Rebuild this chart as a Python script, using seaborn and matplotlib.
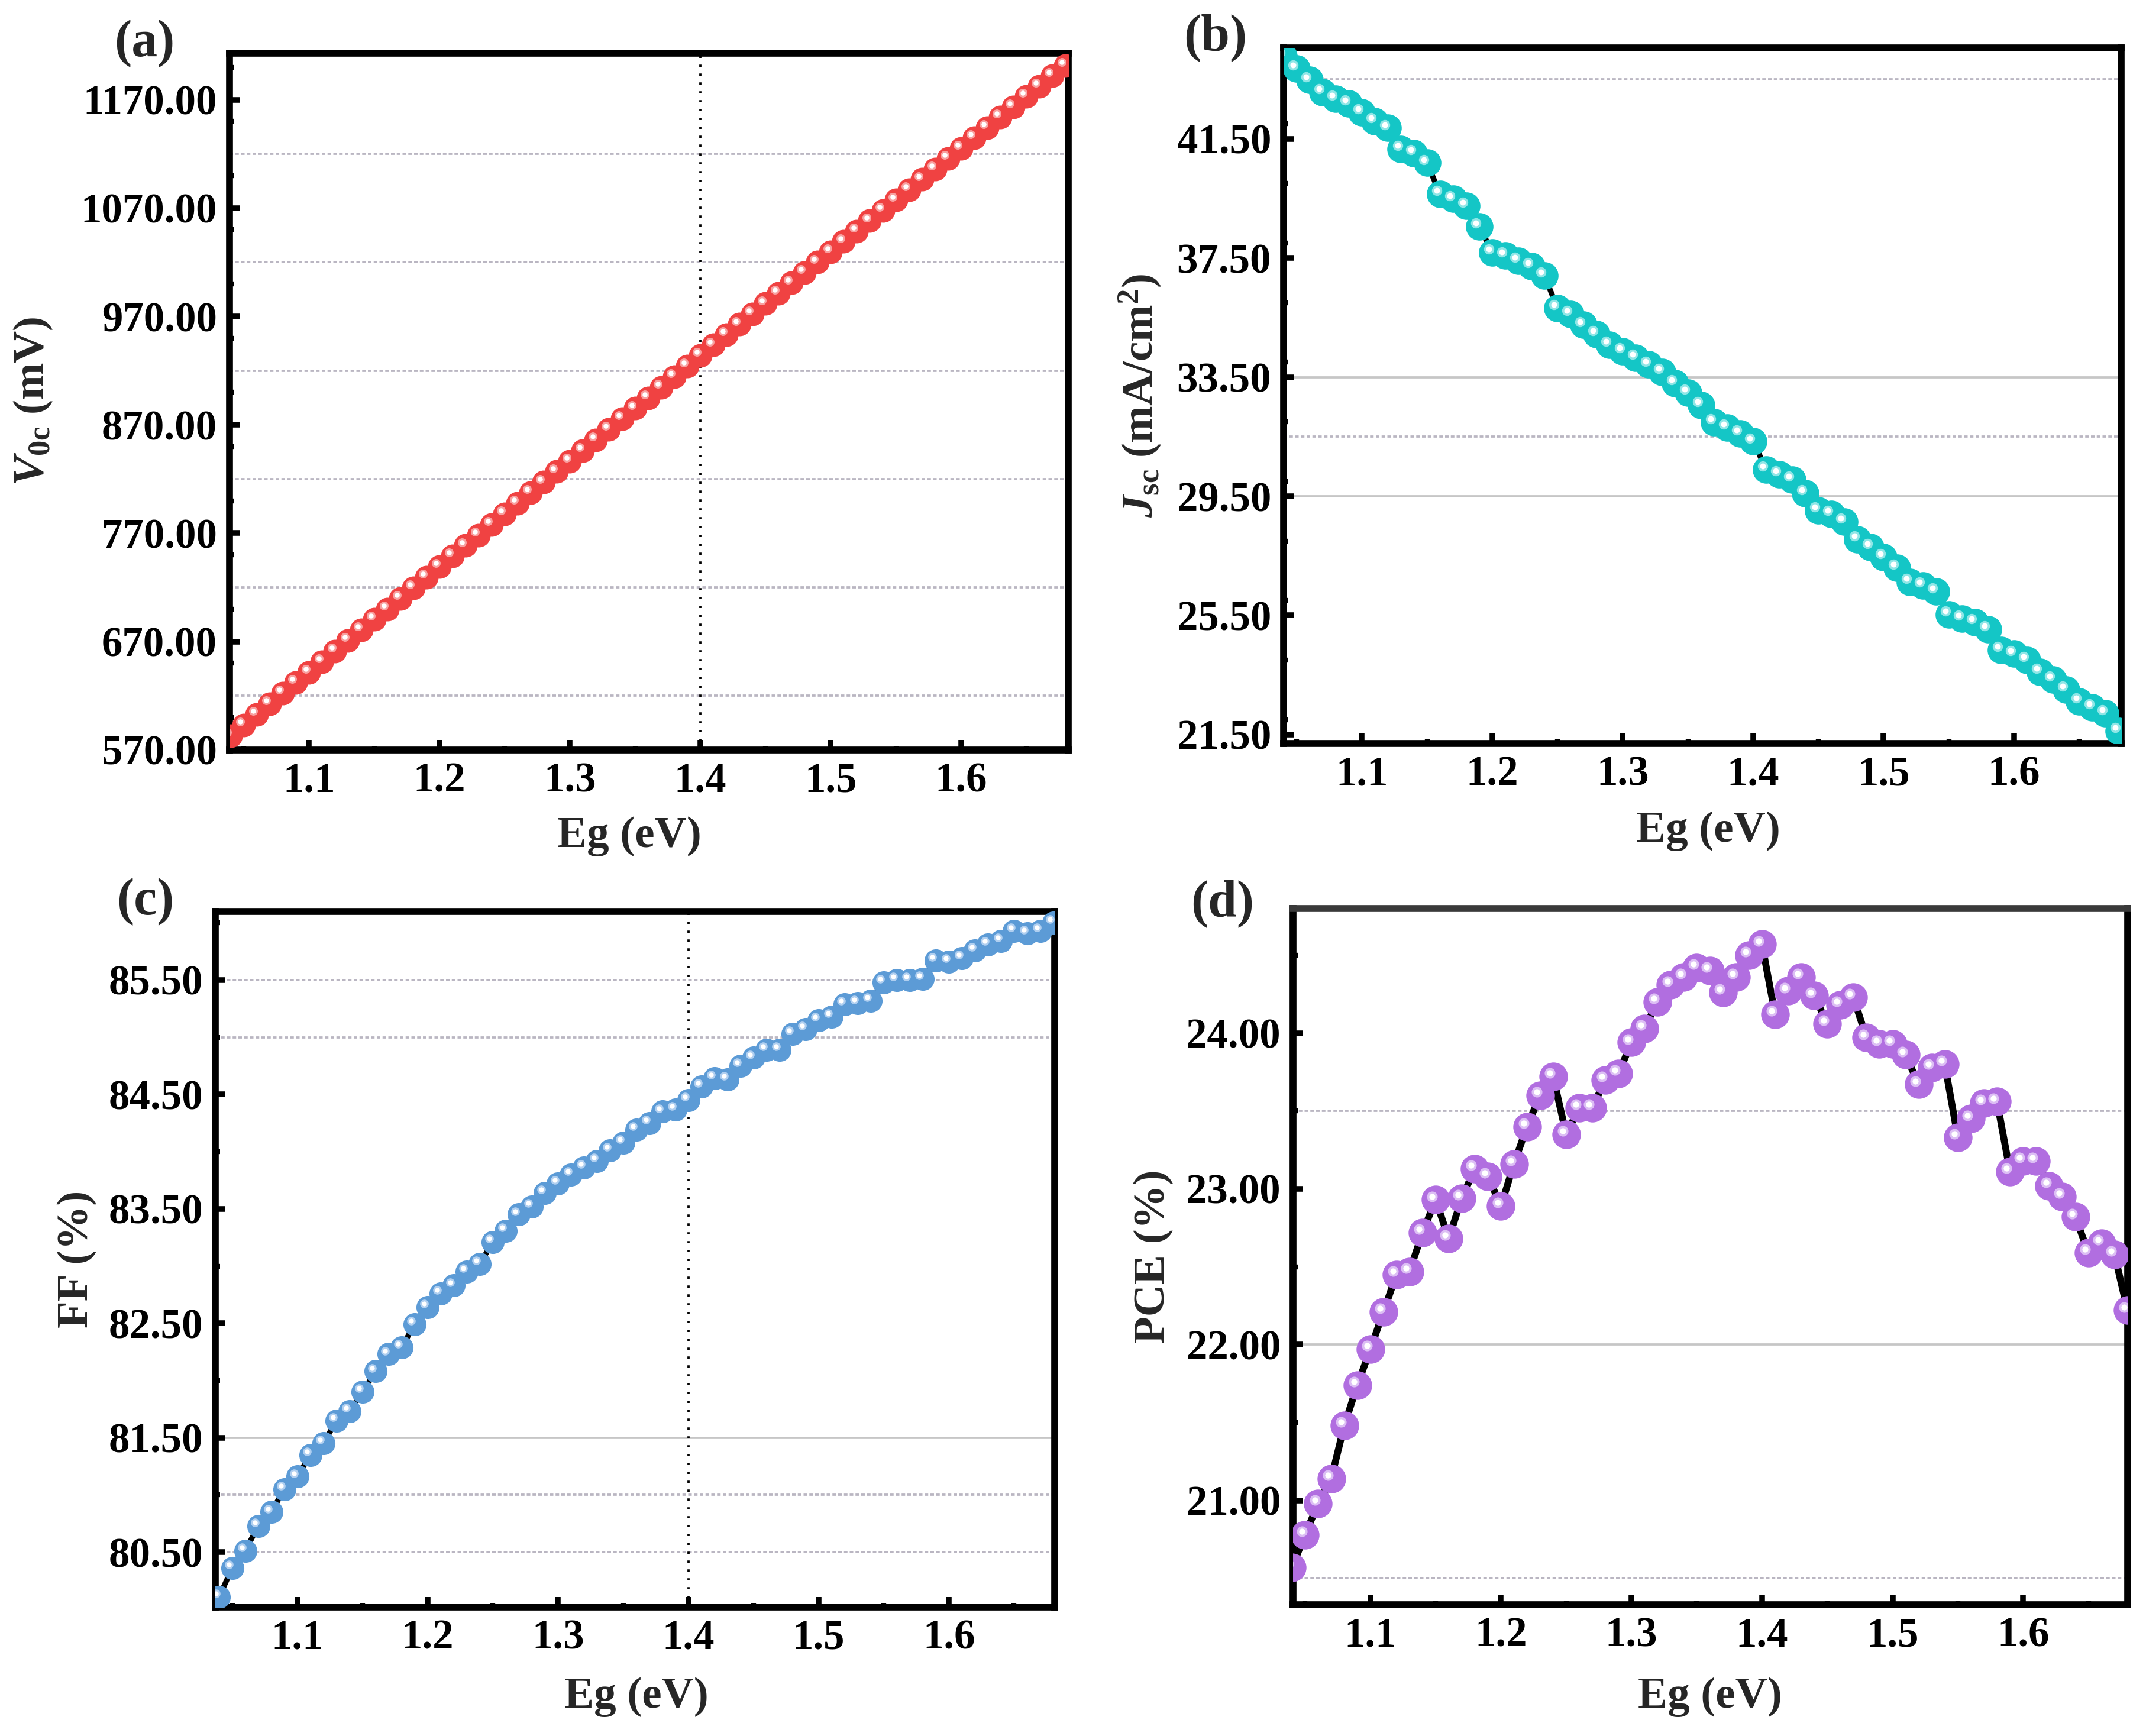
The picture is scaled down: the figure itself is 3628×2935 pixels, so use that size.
import numpy as np
import pandas as pd
import matplotlib
matplotlib.use("Agg")
import matplotlib.pyplot as plt
from matplotlib.ticker import MultipleLocator, FormatStrFormatter
from matplotlib.transforms import offset_copy
import seaborn as sns

# band gap sweep (eV)
eg = [1.04, 1.05, 1.06, 1.07, 1.08, 1.09, 1.10, 1.11, 1.12, 1.13,
      1.14, 1.15, 1.16, 1.17, 1.18, 1.19, 1.20, 1.21, 1.22, 1.23,
      1.24, 1.25, 1.26, 1.27, 1.28, 1.29, 1.30, 1.31, 1.32, 1.33,
      1.34, 1.35, 1.36, 1.37, 1.38, 1.39, 1.40, 1.41, 1.42, 1.43,
      1.44, 1.45, 1.46, 1.47, 1.48, 1.49, 1.50, 1.51, 1.52, 1.53,
      1.54, 1.55, 1.56, 1.57, 1.58, 1.59, 1.60, 1.61, 1.62, 1.63,
      1.64, 1.65, 1.66, 1.67, 1.68]

voc = [583.3, 593.0, 602.7, 612.5, 622.2, 632.0, 641.7, 651.4, 661.2, 670.9,
       680.7, 690.4, 700.1, 709.9, 719.6, 729.4, 739.1, 748.8, 758.6, 768.3,
       778.1, 787.8, 797.5, 807.3, 817.0, 826.8, 836.5, 846.2, 856.0, 865.7,
       875.5, 885.2, 894.9, 904.7, 914.4, 924.2, 934.0, 943.6, 953.1, 962.7,
       972.2, 981.8, 991.3, 1000.9, 1010.4, 1020.0, 1029.6, 1039.1, 1048.7, 1058.2,
       1067.8, 1077.3, 1086.9, 1096.4, 1106.0, 1115.6, 1125.1, 1134.7, 1144.2, 1153.8,
       1163.3, 1172.9, 1182.4, 1192.0, 1201.6]

jsc = [44.27, 43.85, 43.47, 43.06, 42.85, 42.68, 42.39, 42.09, 41.86, 41.16,
       41.01, 40.69, 39.64, 39.48, 39.25, 38.56, 37.69, 37.58, 37.41, 37.22,
       36.90, 35.82, 35.61, 35.25, 34.94, 34.59, 34.36, 34.14, 33.92, 33.67,
       33.29, 32.97, 32.56, 31.98, 31.80, 31.60, 31.34, 30.40, 30.24, 30.05,
       29.60, 29.03, 28.90, 28.65, 28.05, 27.79, 27.46, 27.10, 26.63, 26.50,
       26.30, 25.53, 25.40, 25.27, 25.04, 24.34, 24.21, 24.01, 23.61, 23.34,
       23.01, 22.61, 22.41, 22.21, 21.62]

ff = [80.11, 80.36, 80.51, 80.73, 80.85, 81.05, 81.16, 81.35, 81.45, 81.65,
      81.73, 81.90, 82.08, 82.23, 82.29, 82.49, 82.64, 82.76, 82.83, 82.95,
      83.02, 83.21, 83.31, 83.45, 83.52, 83.64, 83.72, 83.80, 83.86, 83.92,
      84.01, 84.08, 84.19, 84.25, 84.35, 84.37, 84.45, 84.57, 84.64, 84.63,
      84.75, 84.82, 84.89, 84.89, 85.03, 85.07, 85.15, 85.18, 85.29, 85.30,
      85.32, 85.48, 85.50, 85.50, 85.51, 85.67, 85.66, 85.69, 85.76, 85.81,
      85.84, 85.93, 85.91, 85.93, 86.00]

pce = [20.57, 20.78, 20.98, 21.14, 21.48, 21.74, 21.97, 22.21, 22.45, 22.47,
       22.72, 22.93, 22.68, 22.94, 23.13, 23.08, 22.89, 23.16, 23.40, 23.60,
       23.72, 23.35, 23.52, 23.52, 23.70, 23.74, 23.94, 24.03, 24.20, 24.31,
       24.36, 24.42, 24.40, 24.26, 24.36, 24.50, 24.57, 24.12, 24.27, 24.36,
       24.24, 24.06, 24.18, 24.23, 23.97, 23.93, 23.93, 23.86, 23.67, 23.78,
       23.80, 23.33, 23.45, 23.55, 23.56, 23.11, 23.18, 23.18, 23.02, 22.95,
       22.82, 22.59, 22.65, 22.58, 22.22]

df = pd.DataFrame({"Eg": eg, "Voc": voc, "Jsc": jsc, "FF": ff, "PCE": pce})

sns.set_theme(style="white")
plt.rcParams["font.family"] = ["Liberation Serif", "DejaVu Serif"]
plt.rcParams["font.weight"] = "bold"
plt.rcParams["axes.labelweight"] = "bold"
plt.rcParams["mathtext.fontset"] = "custom"
plt.rcParams["mathtext.rm"] = "Liberation Serif:bold"
plt.rcParams["mathtext.bf"] = "Liberation Serif:bold"
plt.rcParams["mathtext.it"] = "Liberation Serif:italic:bold"

fig = plt.figure(figsize=(3628 / 300, 2935 / 300), dpi=300)
fig.patch.set_facecolor("white")


def panel(rect, col, color, light, size, xlim, ylim, major, fmt,
          dotted, solid, ylabel, ylab_x, xlab_xy, letter, letter_xy,
          vline=False, top_color="black", line_w=2.2):
    ax = fig.add_axes(rect)
    ax.set_facecolor("white")
    for v in dotted:
        ax.axhline(v, color="#bab6c2", lw=0.9, ls=(0, (1.6, 1.0)), zorder=0)
    for v in solid:
        ax.axhline(v, color="#c6c6c6", lw=0.9, zorder=0)
    if vline:
        ax.axvline(1.4, color="black", lw=0.9, ls=(0, (1, 3)), zorder=1)

    sns.lineplot(data=df, x="Eg", y=col, color="black", lw=line_w, ax=ax, zorder=2)
    sns.scatterplot(data=df, x="Eg", y=col, color=color, s=size, linewidth=0,
                    ax=ax, zorder=3)
    # small glossy highlight, shifted up-left of each ball
    hl = offset_copy(ax.transData, fig=fig, x=-1.4, y=1.4, units="points")
    sns.scatterplot(data=df, x="Eg", y=col, color=light, s=size * 0.14,
                    linewidth=0, ax=ax, zorder=4, transform=hl)
    sns.scatterplot(data=df, x="Eg", y=col, color="white", s=size * 0.045,
                    linewidth=0, ax=ax, zorder=5, transform=hl)

    ax.set_xlim(xlim)
    ax.set_ylim(ylim)
    ax.xaxis.set_major_locator(MultipleLocator(0.1))
    ax.xaxis.set_minor_locator(MultipleLocator(0.05))
    ax.xaxis.set_major_formatter(FormatStrFormatter("%.1f"))
    ax.set_yticks(major)
    ax.yaxis.set_minor_locator(MultipleLocator((major[1] - major[0]) / 2))
    ax.yaxis.set_major_formatter(FormatStrFormatter(fmt))

    ax.tick_params(which="major", direction="in", length=4, width=2.3,
                   labelsize=17, color="black", labelcolor="black")
    ax.tick_params(axis="y", which="major", pad=5)
    ax.tick_params(axis="x", which="major", pad=5)
    ax.tick_params(which="minor", direction="in", length=1.8, width=2.0,
                   color="black")
    ax.tick_params(which="both", top=False, right=False, left=True, bottom=True)
    for lab in ax.get_xticklabels() + ax.get_yticklabels():
        lab.set_fontweight("bold")

    for side, sp in ax.spines.items():
        sp.set_visible(True)
        sp.set_linewidth(2.8)
        sp.set_color("black")
    ax.spines["top"].set_color(top_color)

    ax.set_xlabel("Eg (eV)", fontsize=18, fontweight="bold", va="center")
    ax.xaxis.set_label_coords(*xlab_xy)
    ax.set_ylabel(ylabel, fontsize=18, fontweight="bold", va="center")
    ax.yaxis.set_label_coords(ylab_x, 0.5)

    fig.text(letter_xy[0], letter_xy[1], letter, fontsize=21, fontweight="bold",
             ha="center", va="center")
    return ax


panel([0.1069, 0.5680, 0.3908, 0.4014], "Voc", "#f04242", "#f8a0a0", 92,
      (1.039, 1.682), (570, 1213), [570, 670, 770, 870, 970, 1070, 1170], "%.2f",
      [620, 720, 820, 920, 1020, 1120], [],
      r"$V_{\mathrm{0c}}$ (mV)", -0.234, (0.477, -0.124),
      "(a)", (0.0673, 0.9748), vline=True)

panel([0.5981, 0.5717, 0.3903, 0.4007], "Jsc", "#14c6c6", "#8fe6e6", 125,
      (1.040, 1.682), (21.2, 44.55), [21.5, 25.5, 29.5, 33.5, 37.5, 41.5], "%.2f",
      [31.5, 43.5], [29.5, 33.5],
      r"$J_{\mathrm{sc}}$ (mA/cm$^{\mathrm{2}}$)", -0.171, (0.507, -0.1255),
      "(b)", (0.5663, 0.9782))

panel([0.1003, 0.0743, 0.3911, 0.4007], "FF", "#5c9bd6", "#b0cff0", 88,
      (1.037, 1.681), (80.02, 86.10), [80.5, 81.5, 82.5, 83.5, 84.5, 85.5], "%.2f",
      [80.5, 81.0, 85.0, 85.5], [81.5],
      "FF (%)", -0.165, (0.502, -0.129),
      "(c)", (0.0678, 0.4807), vline=True)

panel([0.6025, 0.0756, 0.3889, 0.4011], "PCE", "#b16ee0", "#dcbef4", 135,
      (1.0407, 1.680), (20.33, 24.80), [21.0, 22.0, 23.0, 24.0], "%.2f",
      [20.5, 23.5], [22.0],
      "PCE (%)", -0.167, (0.50, -0.132),
      "(d)", (0.5695, 0.4797), top_color="#3a3a3a", line_w=2.8)

fig.savefig("out.png", dpi=300, facecolor="white")
